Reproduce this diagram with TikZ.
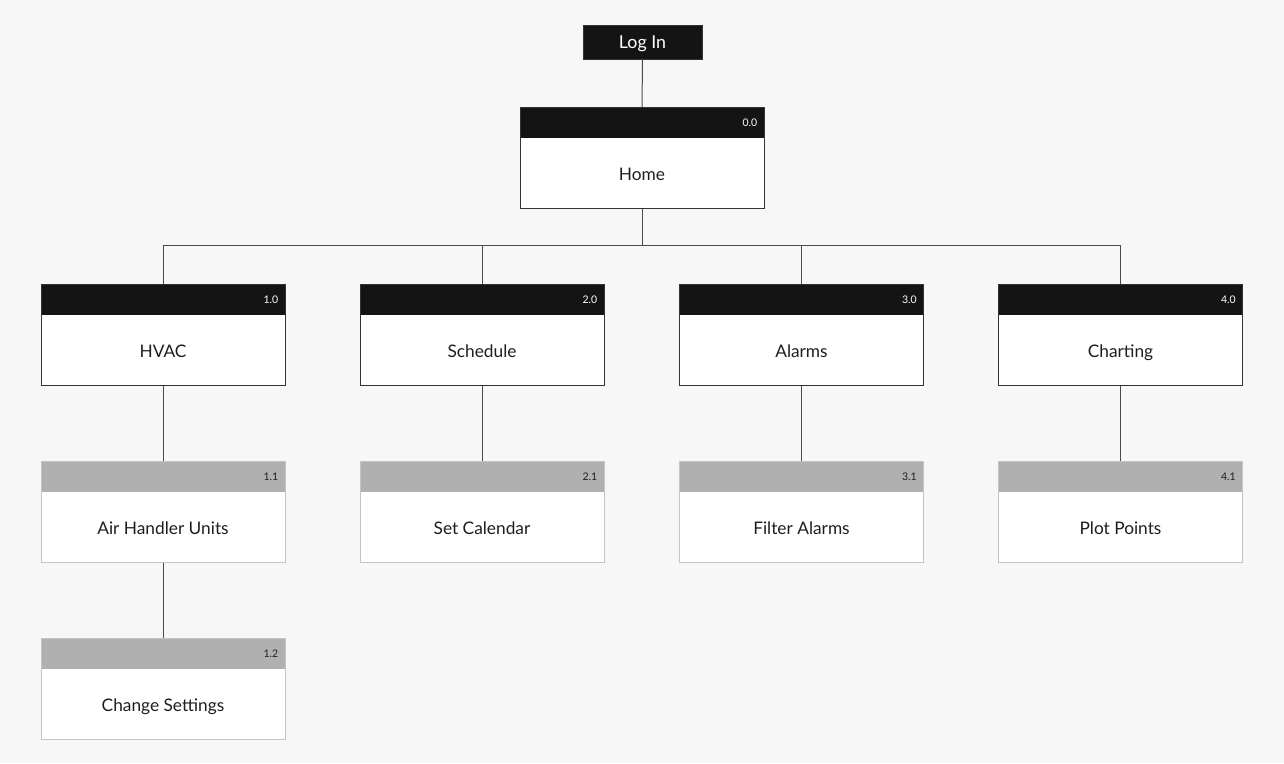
\documentclass[tikz,border=0pt]{standalone}
\usepackage{fontspec}
\setmainfont{Lato}
\definecolor{bg}{HTML}{F7F7F7}
\definecolor{ink}{HTML}{141414}
\definecolor{hdrgray}{HTML}{B0B0B0}
\definecolor{lightedge}{HTML}{C4C4C4}
\definecolor{darkedge}{HTML}{333333}
\definecolor{wire}{HTML}{4A4A4A}
\definecolor{txt}{HTML}{1E1E1E}
\tikzset{
  cardbox/.style={rectangle, inner sep=0pt, minimum width=244pt, minimum height=101pt, fill=white, line width=0.9pt},
  darkcard/.style={draw=darkedge, path picture={\fill[ink] (path picture bounding box.north west) rectangle ([yshift=-31pt]path picture bounding box.north east);}},
  lightcard/.style={draw=lightedge, path picture={\fill[hdrgray] (path picture bounding box.north west) rectangle ([yshift=-31pt]path picture bounding box.north east);}},
  darkcardnum/.style={text=white},
  lightcardnum/.style={text=txt},
  numtxt/.style={inner sep=0pt, font=\fontsize{10.5}{12}\selectfont},
  cardtxt/.style={inner sep=0pt, text=txt, text height=12.5pt, text depth=3.5pt, font=\fontsize{17.3}{20}\selectfont},
  loginbox/.style={rectangle, fill=ink, draw=darkedge, line width=0.9pt, minimum width=119pt, minimum height=34pt, inner sep=0pt, text=white, font=\fontsize{17.8}{20}\selectfont},
  logintxt/.style={inner sep=0pt, text=white, text height=12.5pt, text depth=3.5pt, font=\fontsize{17.8}{20}\selectfont},
  wireline/.style={draw=wire, line width=1pt}
}
\newcommand\mycard[6]{%
  \node[cardbox, #6, anchor=north] (#1) at (#2,#3) {};
  \node[numtxt, #6num, anchor=east] (#1-n) at ([xshift=-7pt,yshift=-15.5pt]#1.north east) {#4};
  \node[cardtxt] (#1-t) at ([yshift=33pt]#1.south) {#5};
}
\begin{document}
\begin{tikzpicture}[x=1pt,y=-1pt]
\fill[bg] (0,0) rectangle (1284,763);
\useasboundingbox (0,0) rectangle (1284,763);
\node[loginbox] (login) at (642.5,42) {};
\node[logintxt] (login-t) at ([yshift=-1.5pt]login.center) {Log In};
\mycard{home}{642}{107}{0.0}{Home}{darkcard}
\mycard{hvac}{163}{284}{1.0}{HVAC}{darkcard}
\mycard{sched}{482}{284}{2.0}{Schedule}{darkcard}
\mycard{alarm}{801.5}{284}{3.0}{Alarms}{darkcard}
\mycard{chart}{1120.5}{284}{4.0}{Charting}{darkcard}
\mycard{ahu}{163}{461}{1.1}{Air Handler Units}{lightcard}
\mycard{cal}{482}{461}{2.1}{Set Calendar}{lightcard}
\mycard{filt}{801.5}{461}{3.1}{Filter Alarms}{lightcard}
\mycard{plot}{1120.5}{461}{4.1}{Plot Points}{lightcard}
\mycard{chg}{163}{638}{1.2}{Change Settings}{lightcard}
\draw[wireline] (login.south) -- (home.north);
\draw[wireline] (home.south) -- ++(0,37) -| (hvac.north);
\draw[wireline] (home.south) -- ++(0,37) -| (sched.north);
\draw[wireline] (home.south) -- ++(0,37) -| (alarm.north);
\draw[wireline] (home.south) -- ++(0,37) -| (chart.north);
\draw[wireline] (hvac.south) -- (ahu.north);
\draw[wireline] (sched.south) -- (cal.north);
\draw[wireline] (alarm.south) -- (filt.north);
\draw[wireline] (chart.south) -- (plot.north);
\draw[wireline] (ahu.south) -- (chg.north);
\end{tikzpicture}
\end{document}
